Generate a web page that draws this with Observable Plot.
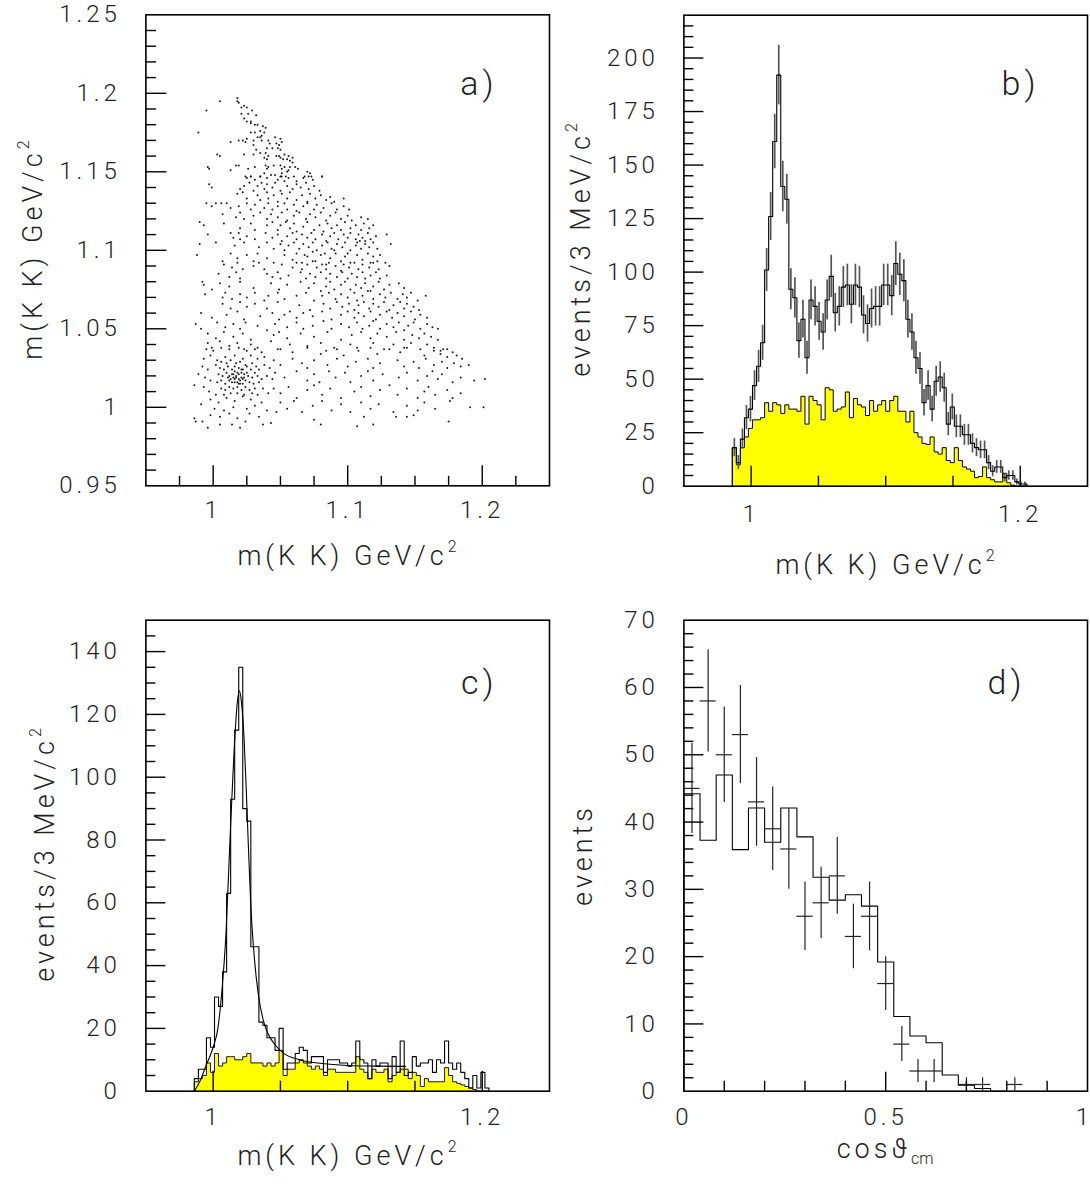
<!DOCTYPE html>
<html>
<head>
<meta charset="utf-8">
<script src="https://cdn.jsdelivr.net/npm/d3@7"></script>
<script src="https://cdn.jsdelivr.net/npm/@observablehq/plot@0.6"></script>
<style>
  html, body { margin: 0; padding: 0; background: #fff; }
  #root { position: relative; width: 1090px; height: 1184px; background: #fff; overflow: hidden; }
  .panel { position: absolute; }
  #root .panel svg { overflow: visible; background: transparent; }
  #root .panel svg text { font-family: Roboto, "DejaVu Sans", sans-serif; font-weight: 300; font-size: 24px; letter-spacing: 4px; fill: #222; }
  #root .panel svg text.ttl { font-size: 27px; letter-spacing: 4px; }
  #root .panel svg text.plab { font-size: 34px; letter-spacing: 4px; }
  #root .panel svg text.tight { letter-spacing: 0px; }
  #root .panel svg tspan.sup { font-size: 16px; letter-spacing: 0px; }
</style>
</head>
<body>
<div id="root"></div>
<script>
// ---------------- DATA ----------------
// common mass binning (events / 3 MeV/c^2)
const binStart = 0.986;
const binWidth = 0.003;

// panel b: total m(KK) histogram, its errors, and background (yellow)
const countsB = [18,11,22,32,36,47,56,67,101,126,161,192,140,134,92,88,68,78,60,87,
  84,77,72,87,98,81,84,93,94,85,94,93,80,76,83,84,84,94,94,89,
  104,99,96,78,72,60,55,39,47,36,49,51,46,29,37,28,28,24,24,20,
  18,17,17,11,7,9,9,4,5,5,2,1,1];
const errorsB = [4.2,3.3,4.7,5.7,6,6.9,7.5,8.2,10,11.2,12.7,13.9,11.8,11.6,9.6,9.4,8.2,8.8,7.7,9.3,
  9.2,8.8,8.5,9.3,9.9,9,9.2,9.6,9.7,9.2,9.7,9.6,8.9,8.7,9.1,9.2,9.2,9.7,9.7,9.4,
  10.2,9.9,9.8,8.8,8.5,7.7,7.4,6.2,6.9,6,7,7.1,6.8,5.4,6.1,5.3,5.3,4.9,4.9,4.5,
  4.2,4.1,4.1,3.3,2.6,3,3,2,2.2,2.2,1.4,1,1];
const backgroundB = [18,10,18,23,27,31,31,32,39,35,39,38,34,38,36,36,35,42,29,42,
  40,38,31,46,45,35,36,37,44,32,41,38,37,33,40,35,38,40,35,40,
  42,35,35,30,35,25,23,20,19.5,23,16,15,18,12,11,18,12,9,8,7,
  4,4.5,9,4,3,2,2,6,1.6,0.5,0,0,0];

// panel c: selected m(KK) histogram, background (yellow), fit curve
const countsC = [4,7,7,17,14,30,27,38,63,93,115,135,90,86,46,46,22,21,17,17,
  13,20,7,9,9,12,14,13,9,11,11,11,6,10,10,10,9,9,8,9,
  16,10,9,4,10,8,9,9,4,11,6,16,5,6,11,8,9,9,10,6,
  10,9,16,9,7,9,6,4,1,5,1,6,1];
const backgroundC = [3,4,5,9,6,12,8,9,11,11,10,10,11,12,9,9,9,8,9,8,
  9,13,5,7,7,9,10,9,8,7,8,7,5,7,7,6,6,6,6,6,
  11,7,6,4,7,6,6,7,3,5,6,7,7,4,6,5,1.5,4,3,3,
  3,3,7.5,5,3,2.5,2,1.5,1,0.5,0,0,0];
const fitMassC = [0.986,0.990,0.995,1.000,1.0035,1.0065,1.0095,1.0125,1.0155,1.018,1.0195,1.021,1.023,1.0245,1.026,1.028,1.0305,1.0335,1.037,1.040,1.046,1.052,1.064,1.081,1.100,1.120,1.143];
const fitValueC = [0,3,8.5,14,20,32,50,80,108,124,127.5,124,112,97,80,59,43,31,23,19,14.8,12.2,10,8.8,8.2,8.0,7.9];

// panel d: cos(theta_cm) – MC histogram (0.04 bins) and data points
const cosEdgesStart = 0, cosBinWidth = 0.04;
const mcD = [44.2,37.3,47,35.9,42.1,37.0,42.1,37.8,31.8,28.4,29.2,27.5,19.2,11.1,8.2,7.2,2.4,0.9,0.4,0];
const dataCosD = [0.02,0.06,0.10,0.14,0.18,0.22,0.26,0.30,0.34,0.38,0.42,0.46,0.50,0.54,0.58,0.62,0.70,0.74,0.82];
const dataEvtD = [45,58,50,53,43,39,36,26,28,32,23,26,16,7,3,3,1,1,1];
const dataErrD = [6.7,7.6,7.1,7.3,6.6,6.2,6,5.1,5.3,5.7,4.8,5.1,4,2.6,1.7,1.7,1,1,1];

// panel a: scatter m(KK) vs m(KK)
const scatterTop = [[1.005,1.195],[0.995,1.189],[1.018,1.197],[1.018,1.195],[1.019,1.194],[1.023,1.192],[1.025,1.191],[1.021,1.191],[1.029,1.189],[1.032,1.186],[1.026,1.187],[1.021,1.187],
[1.023,1.184],[1.025,1.182],[1.028,1.182],[1.031,1.180],[1.033,1.180],[1.037,1.179],[1.039,1.178],[1.028,1.181],
[0.989,1.175],[1.028,1.175],[1.031,1.175],[1.035,1.176],[1.038,1.175],[1.036,1.173],[1.025,1.171],[1.022,1.170],[1.019,1.170],[1.024,1.169],[1.030,1.170],[1.033,1.172],[1.035,1.172],[1.036,1.170],[1.013,1.169],[1.041,1.170],[1.046,1.172],[1.050,1.171],[1.051,1.169],[1.042,1.168],[1.047,1.168],[1.049,1.167],
[1.032,1.164],[1.030,1.167],[1.040,1.165],[1.044,1.165],[1.048,1.165],[1.050,1.164],[1.039,1.162],[1.035,1.162],[1.030,1.161],[1.003,1.161],[1.005,1.160],[1.023,1.161],[1.041,1.160],[1.038,1.159],[1.040,1.158],[1.047,1.160],[1.049,1.160],[1.053,1.161],[1.056,1.160],[1.059,1.159],[1.050,1.159],[1.052,1.158],[1.055,1.158],[1.057,1.157],
[0.996,1.153],[0.997,1.152],[1.017,1.154],[1.019,1.154],[1.026,1.152],[1.013,1.151],[1.031,1.153],[1.039,1.154],[1.041,1.153],[1.040,1.152],[1.045,1.154],[1.050,1.154],[1.051,1.152],[1.053,1.153],[1.056,1.151],[1.057,1.153],[1.059,1.156],[1.061,1.153],[1.063,1.152],[1.055,1.150],[1.038,1.149],[1.035,1.147],[1.028,1.147],[1.024,1.147],[1.046,1.148],[1.050,1.147],[1.051,1.149],[1.054,1.147],[1.070,1.150],[1.072,1.149],[1.068,1.147],[1.073,1.147],[1.081,1.147]];

const scatterUpper = [[1.025,1.146],[1.028,1.147],[1.031,1.145],[1.035,1.147],[1.040,1.146],[1.043,1.148],[1.048,1.145],[1.051,1.147],[1.053,1.144],[1.056,1.146],[1.060,1.147],[1.062,1.144],[1.067,1.146],[1.071,1.147],[1.074,1.145],[1.081,1.147],
[0.997,1.142],[0.999,1.140],[1.020,1.139],[1.023,1.141],[1.027,1.143],[1.030,1.138],[1.033,1.141],[1.036,1.143],[1.038,1.139],[1.040,1.142],[1.044,1.140],[1.046,1.143],[1.050,1.138],[1.055,1.141],[1.059,1.139],[1.062,1.142],[1.065,1.140],[1.069,1.143],[1.071,1.139],[1.075,1.141],[1.079,1.138],
[1.018,1.136],[1.022,1.137],[1.025,1.133],[1.033,1.135],[1.035,1.132],[1.040,1.137],[1.041,1.133],[1.045,1.135],[1.048,1.131],[1.051,1.136],[1.055,1.133],[1.057,1.137],[1.062,1.132],[1.066,1.135],[1.070,1.131],[1.072,1.136],[1.076,1.133],[1.080,1.135],[1.084,1.132],[1.087,1.134],[1.090,1.131],[1.097,1.133],
[0.995,1.130],[0.999,1.128],[1.002,1.130],[1.006,1.130],[1.010,1.130],[1.013,1.127],[1.019,1.128],[1.025,1.130],[1.028,1.126],[1.031,1.129],[1.038,1.127],[1.041,1.130],[1.044,1.126],[1.048,1.128],[1.053,1.130],[1.055,1.126],[1.060,1.129],[1.062,1.125],[1.067,1.128],[1.070,1.130],[1.075,1.126],[1.077,1.129],[1.082,1.127],[1.088,1.130],[1.092,1.126],[1.097,1.128],[1.101,1.126],
[1.007,1.123],[1.017,1.121],[1.020,1.124],[1.023,1.120],[1.030,1.122],[1.035,1.124],[1.040,1.120],[1.043,1.123],[1.048,1.121],[1.051,1.124],[1.055,1.119],[1.060,1.122],[1.064,1.124],[1.069,1.120],[1.072,1.123],[1.076,1.121],[1.080,1.124],[1.084,1.119],[1.087,1.122],[1.091,1.124],[1.095,1.120],[1.100,1.122],[1.103,1.119],[1.110,1.121],[1.115,1.120],
[0.990,1.118],[0.993,1.116],[1.008,1.117],[1.020,1.114],[1.028,1.117],[1.031,1.113],[1.040,1.116],[1.044,1.118],[1.048,1.113],[1.050,1.116],[1.054,1.118],[1.057,1.114],[1.060,1.117],[1.062,1.112],[1.067,1.115],[1.070,1.118],[1.075,1.113],[1.079,1.116],[1.082,1.112],[1.085,1.117],[1.088,1.114],[1.092,1.116],[1.095,1.113],[1.098,1.118],[1.102,1.114],[1.106,1.116],[1.110,1.113],[1.112,1.117],[1.116,1.114],[1.119,1.116],
[0.996,1.110],[1.013,1.111],[1.015,1.108],[1.019,1.111],[1.020,1.107],[1.025,1.109],[1.031,1.107],[1.039,1.111],[1.044,1.108],[1.048,1.110],[1.051,1.106],[1.055,1.109],[1.059,1.111],[1.062,1.107],[1.066,1.110],[1.070,1.108],[1.073,1.111],[1.076,1.107],[1.081,1.110],[1.084,1.106],[1.087,1.109],[1.090,1.111],[1.093,1.107],[1.097,1.110],[1.100,1.108],[1.102,1.111],[1.106,1.107],[1.108,1.110],[1.111,1.108],[1.115,1.111],[1.117,1.107],[1.121,1.109],[1.129,1.110],[1.113,1.106],[1.109,1.106],
[0.990,1.104],[1.002,1.105],[1.016,1.103],[1.023,1.105],[1.034,1.102],[1.040,1.105],[1.045,1.101],[1.050,1.104],[1.053,1.100],[1.056,1.103],[1.060,1.105],[1.064,1.101],[1.067,1.104],[1.071,1.102],[1.074,1.105],[1.077,1.100],[1.081,1.103],[1.085,1.105],[1.088,1.101],[1.092,1.104],[1.096,1.102],[1.098,1.105],[1.102,1.100],[1.106,1.103],[1.110,1.101],[1.113,1.104],[1.116,1.102],[1.119,1.105],[1.122,1.101],[1.132,1.104],[1.107,1.105],[1.090,1.100],
[0.988,1.097],[1.007,1.093],[1.013,1.098],[1.018,1.095],[1.025,1.097],[1.030,1.093],[1.033,1.098],[1.040,1.095],[1.045,1.092],[1.053,1.097],[1.059,1.094],[1.062,1.098],[1.066,1.092],[1.070,1.096],[1.074,1.099],[1.076,1.093],[1.080,1.097],[1.084,1.091],[1.087,1.095],[1.091,1.098],[1.095,1.093],[1.098,1.096],[1.102,1.092],[1.107,1.097],[1.111,1.094],[1.115,1.098],[1.117,1.092],[1.119,1.096],[1.122,1.093],[1.124,1.097],[1.128,1.092],[1.083,1.098],[1.068,1.097],[1.100,1.098]];

const scatterMiddle = [[1.008,1.091],[1.014,1.089],[1.018,1.092],[1.022,1.088],[1.030,1.090],[1.034,1.092],[1.038,1.088],[1.051,1.091],[1.059,1.089],[1.062,1.092],[1.066,1.088],[1.070,1.091],[1.074,1.093],[1.077,1.089],[1.081,1.091],[1.084,1.088],[1.086,1.092],[1.091,1.090],[1.095,1.087],[1.097,1.091],[1.101,1.089],[1.105,1.092],[1.108,1.088],[1.111,1.091],[1.116,1.089],[1.119,1.092],[1.123,1.088],[1.131,1.090],
[1.004,1.085],[1.012,1.083],[1.017,1.086],[1.020,1.082],[1.040,1.085],[1.044,1.083],[1.048,1.086],[1.050,1.082],[1.056,1.084],[1.065,1.086],[1.069,1.082],[1.072,1.085],[1.076,1.083],[1.080,1.086],[1.084,1.082],[1.087,1.085],[1.092,1.083],[1.096,1.086],[1.100,1.082],[1.103,1.085],[1.107,1.083],[1.111,1.086],[1.113,1.082],[1.117,1.084],[1.121,1.086],[1.124,1.082],[1.129,1.084],
[0.992,1.080],[0.993,1.078],[0.999,1.075],[1.005,1.079],[1.012,1.077],[1.020,1.080],[1.030,1.076],[1.043,1.079],[1.049,1.075],[1.055,1.078],[1.065,1.080],[1.071,1.076],[1.075,1.079],[1.080,1.074],[1.084,1.077],[1.087,1.080],[1.090,1.075],[1.095,1.078],[1.098,1.080],[1.102,1.075],[1.106,1.078],[1.110,1.076],[1.113,1.079],[1.117,1.074],[1.119,1.077],[1.123,1.080],[1.127,1.075],[1.131,1.078],[1.138,1.079],[1.142,1.076],
[0.994,1.072],[1.007,1.070],[1.009,1.073],[1.014,1.069],[1.020,1.072],[1.025,1.070],[1.031,1.073],[1.038,1.068],[1.041,1.071],[1.048,1.073],[1.053,1.069],[1.062,1.071],[1.069,1.073],[1.075,1.068],[1.081,1.071],[1.086,1.073],[1.091,1.069],[1.095,1.072],[1.100,1.070],[1.105,1.073],[1.107,1.068],[1.111,1.071],[1.115,1.074],[1.119,1.069],[1.124,1.072],[1.128,1.070],[1.132,1.073],[1.137,1.069],[1.141,1.072],[1.144,1.070],[1.147,1.073],[1.152,1.068],[1.158,1.071],
[1.007,1.066],[1.013,1.063],[1.020,1.067],[1.025,1.064],[1.031,1.066],[1.040,1.063],[1.048,1.067],[1.064,1.065],[1.072,1.062],[1.082,1.066],[1.087,1.063],[1.092,1.067],[1.096,1.064],[1.101,1.066],[1.105,1.062],[1.108,1.065],[1.112,1.067],[1.116,1.063],[1.119,1.066],[1.123,1.064],[1.127,1.067],[1.131,1.062],[1.134,1.065],[1.139,1.067],[1.142,1.063],[1.144,1.066],[1.149,1.064],[1.153,1.062],
[0.991,1.060],[0.999,1.057],[1.010,1.059],[1.018,1.061],[1.023,1.056],[1.035,1.058],[1.044,1.060],[1.049,1.056],[1.053,1.059],[1.057,1.061],[1.062,1.057],[1.067,1.060],[1.074,1.058],[1.081,1.061],[1.088,1.056],[1.095,1.059],[1.100,1.061],[1.105,1.057],[1.108,1.060],[1.112,1.058],[1.117,1.061],[1.121,1.056],[1.124,1.059],[1.129,1.061],[1.133,1.057],[1.137,1.060],[1.142,1.058],[1.147,1.061],[1.150,1.056],[1.154,1.059],[1.159,1.057],
[0.987,1.053],[0.991,1.050],[1.003,1.054],[1.009,1.051],[1.015,1.053],[1.020,1.050],[1.024,1.054],[1.033,1.052],[1.040,1.049],[1.046,1.053],[1.055,1.051],[1.062,1.054],[1.067,1.050],[1.074,1.052],[1.082,1.055],[1.088,1.050],[1.095,1.053],[1.101,1.051],[1.107,1.054],[1.111,1.050],[1.116,1.052],[1.119,1.055],[1.124,1.050],[1.129,1.053],[1.134,1.051],[1.138,1.054],[1.142,1.049],[1.145,1.052],[1.149,1.054],[1.154,1.050],[1.159,1.053],[1.163,1.051],[1.167,1.050],
[0.996,1.047],[1.002,1.044],[1.008,1.048],[1.015,1.045],[1.022,1.047],[1.028,1.043],[1.045,1.046],[1.049,1.048],[1.055,1.044],[1.065,1.047],[1.075,1.045],[1.085,1.048],[1.095,1.043],[1.103,1.046],[1.110,1.048],[1.117,1.044],[1.122,1.047],[1.129,1.045],[1.136,1.048],[1.142,1.043],[1.148,1.046],[1.153,1.044],[1.157,1.047],[1.162,1.045],[1.167,1.043],
[0.996,1.041],[0.999,1.038],[1.005,1.042],[1.012,1.039],[1.018,1.041],[1.023,1.037],[1.028,1.040],[1.033,1.038],[1.043,1.042],[1.048,1.037],[1.057,1.040],[1.070,1.039],[1.080,1.041],[1.092,1.037],[1.102,1.040],[1.107,1.038],[1.119,1.041],[1.127,1.037],[1.134,1.040],[1.142,1.038],[1.147,1.041],[1.154,1.037],[1.159,1.040],[1.164,1.038],[1.169,1.036],[1.174,1.037]];

const scatterPhi = [[0.995,1.037],[1.000,1.036],[1.006,1.038],[1.012,1.037],[1.019,1.038],[1.025,1.036],[1.031,1.037],[1.036,1.035],[0.993,1.031],[0.998,1.033],[1.003,1.030],[1.009,1.032],[1.016,1.033],[1.022,1.031],[1.028,1.033],[1.033,1.031],[1.038,1.032],[0.992,1.026],[0.996,1.024],[1.002,1.027],[1.038,1.027],[1.042,1.025],[0.989,1.021],[0.994,1.019],[0.998,1.017],[1.040,1.020],[1.044,1.018],[0.993,1.013],[0.997,1.010],[1.002,1.008],[1.037,1.012],[1.041,1.009],[0.998,1.005],[1.004,1.003],[1.010,1.006],[1.016,1.004],[1.022,1.007],[1.028,1.005],[1.033,1.008],[1.036,1.003],[0.991,1.002],[1.001,0.999],[1.008,0.998],[1.015,1.000],[1.025,0.999],[1.031,1.001],[1.040,0.998],[0.986,0.993],[0.992,0.991],[0.996,0.987],[0.998,0.995],[1.005,0.994],[1.012,0.996],[1.018,0.993],[1.024,0.991],[1.027,0.996],[1.034,0.994],[1.037,0.989],[1.043,0.990],[1.047,0.997],[1.005,0.989],[1.014,0.989],[1.020,0.987],[0.986,1.014],[0.987,0.991],
[1.006,1.029],[1.010,1.028],[1.013,1.030],[1.017,1.028],[1.020,1.029],[1.024,1.027],[1.029,1.028],[1.032,1.026],[1.005,1.025],[1.008,1.024],[1.011,1.026],[1.014,1.024],[1.016,1.026],[1.019,1.025],[1.022,1.024],[1.025,1.026],[1.028,1.024],[1.031,1.022],[1.034,1.024],[1.004,1.021],[1.007,1.020],[1.010,1.022],[1.012,1.020],[1.015,1.021],[1.017,1.019],[1.019,1.021],[1.021,1.019],[1.023,1.021],[1.026,1.020],[1.029,1.019],[1.033,1.020],[1.036,1.018],[1.003,1.016],[1.006,1.017],[1.009,1.015],[1.012,1.017],[1.014,1.016],[1.016,1.018],[1.018,1.016],[1.020,1.017],[1.022,1.015],[1.024,1.017],[1.027,1.016],[1.030,1.015],[1.034,1.016],[1.006,1.012],[1.009,1.011],[1.012,1.013],[1.015,1.012],[1.018,1.013],[1.021,1.011],[1.024,1.013],[1.027,1.011],[1.031,1.012],[1.008,1.008],[1.013,1.009],[1.018,1.009],[1.023,1.008],[1.029,1.009],[1.017,1.020],[1.019,1.018],[1.021,1.022],[1.015,1.019],[1.020,1.015],[1.013,1.018],[1.025,1.022],[1.016,1.023],[1.011,1.019],[1.023,1.019],[1.018,1.022],[1.014,1.021],[1.022,1.018],[1.019,1.015],[1.016,1.016],[1.021,1.024]];

const scatterLower = [[1.050,1.037],[1.059,1.035],[1.070,1.038],[1.080,1.034],[1.084,1.036],[1.090,1.038],[1.097,1.033],[1.108,1.036],[1.117,1.038],[1.122,1.034],[1.131,1.037],[1.139,1.035],[1.144,1.038],[1.157,1.033],[1.164,1.036],[1.169,1.034],[1.171,1.037],[1.174,1.032],[1.178,1.035],[1.181,1.033],[1.185,1.031],
[1.045,1.030],[1.050,1.027],[1.059,1.031],[1.066,1.028],[1.070,1.025],[1.075,1.030],[1.085,1.027],[1.092,1.031],[1.100,1.026],[1.106,1.029],[1.115,1.031],[1.119,1.025],[1.124,1.028],[1.137,1.030],[1.142,1.026],[1.149,1.029],[1.153,1.025],[1.158,1.031],[1.164,1.027],[1.170,1.029],[1.174,1.025],[1.179,1.028],[1.184,1.026],[1.190,1.027],
[1.046,1.022],[1.053,1.019],[1.062,1.023],[1.070,1.017],[1.075,1.021],[1.079,1.016],[1.086,1.023],[1.091,1.019],[1.098,1.022],[1.102,1.016],[1.110,1.020],[1.115,1.023],[1.119,1.017],[1.126,1.021],[1.138,1.019],[1.144,1.022],[1.152,1.017],[1.159,1.020],[1.163,1.023],[1.167,1.018],[1.170,1.021],[1.178,1.016],[1.184,1.019],[1.194,1.017],[1.202,1.018],
[1.045,1.012],[1.050,1.009],[1.056,1.013],[1.062,1.006],[1.070,1.011],[1.075,1.014],[1.081,1.008],[1.087,1.012],[1.095,1.006],[1.105,1.010],[1.110,1.013],[1.117,1.007],[1.124,1.011],[1.131,1.014],[1.137,1.008],[1.144,1.012],[1.152,1.006],[1.157,1.010],[1.160,1.013],[1.165,1.008],[1.174,1.011],[1.178,1.006],[1.184,1.009],
[1.050,1.003],[1.055,0.999],[1.060,1.004],[1.066,0.997],[1.074,1.001],[1.081,1.004],[1.088,0.998],[1.095,1.002],[1.102,0.997],[1.110,1.003],[1.117,0.999],[1.123,1.002],[1.134,0.997],[1.144,1.001],[1.152,0.998],[1.157,1.003],[1.165,0.999],[1.176,1.004],[1.191,1.000],[1.201,1.000],
[1.075,0.992],[1.080,0.989],[1.107,0.988],[1.112,0.994],[1.119,0.989],[1.136,0.994],[1.144,0.994],[1.149,0.995],[1.175,0.991]];

// tick labels
const ticksA = [0.95,1,1.05,1.1,1.15,1.2,1.25];
const ticksAx = [1,1.1,1.2];
const ticksBy = [0,25,50,75,100,125,150,175,200];
const ticksMass = [1,1.2];
const ticksCy = [0,20,40,60,80,100,120,140];
const ticksDx = [0,0.5];
const ticksDxEnd = [1];
const ticksDy = [0,10,20,30,40,50,60,70];

// ---------------- HELPERS ----------------
const fmt = d => String(d);
const root = document.getElementById("root");

function stepPoints(start, width, values) {
  const pts = [{x: start, y: 0}];
  values.forEach((v, i) => pts.push({x: start + i * width, y: v}));
  const end = start + values.length * width;
  pts.push({x: end, y: values[values.length - 1]});
  pts.push({x: end, y: 0});
  return pts;
}
function range(a, b, s) { return d3.range(a, b + s / 2, s).map(v => +v.toFixed(4)); }
function minor(a, b, s, majorStep) {
  return range(a, b, s).filter(v => Math.abs(v / majorStep - Math.round(v / majorStep)) > 1e-6);
}
function ticksMarks(o) {
  const {FW, FH, xMinor, xMajor, yMinor, yMajor, xMinLen, xMajLen, yMinLen, yMajLen} = o;
  const st = {stroke: "black", strokeWidth: 1.4};
  return [
    Plot.tickX(xMinor, {x: d => d, insetTop: FH - xMinLen, ...st}),
    Plot.tickX(xMajor, {x: d => d, insetTop: FH - xMajLen, ...st}),
    Plot.tickY(yMinor, {y: d => d, insetRight: FW - yMinLen, ...st}),
    Plot.tickY(yMajor, {y: d => d, insetRight: FW - yMajLen, ...st})
  ];
}
function mount(svg, left, top) {
  const div = document.createElement("div");
  div.className = "panel";
  div.style.left = left + "px";
  div.style.top = top + "px";
  div.appendChild(svg);
  root.appendChild(div);
  return d3.select(svg);
}
function title(sel, x, y, rotate, main, sup, sub) {
  const t = sel.append("text").attr("class", "ttl")
    .attr("text-anchor", "middle")
    .attr("transform", `translate(${x},${y})` + (rotate ? " rotate(-90)" : ""));
  t.append("tspan").text(main);
  if (sup) t.append("tspan").attr("class", "sup").attr("dy", "-0.8em").text(sup);
  if (sub) t.append("tspan").attr("class", "sup").attr("dy", "0.35em").text(sub);
}
function markLabel(s, txt, cls) {
  s.selectAll("text").filter(function() { return this.textContent === txt; }).attr("class", cls || "plab");
}

// ---------------- PANEL A ----------------
{
  const W = 560, H = 600, ML = 145.4, MT = 14.3, FW = 403.6, FH = 471;
  const allPts = [...scatterTop, ...scatterUpper, ...scatterMiddle, ...scatterPhi, ...scatterLower];
  const svg = Plot.plot({
    width: W, height: H, marginLeft: ML, marginTop: MT, marginRight: W - ML - FW, marginBottom: H - MT - FH,
    x: {domain: [0.95, 1.25]}, y: {domain: [0.95, 1.25]},
    marks: [
      Plot.dot(allPts, {x: d => d[0], y: d => d[1], r: 1.0, fill: "#1a1a1a", stroke: "none"}),
      ...ticksMarks({FW, FH,
        xMinor: minor(0.975, 1.225, 0.025, 0.1), xMajor: ticksAx,
        yMinor: minor(0.96, 1.24, 0.01, 0.05), yMajor: [1, 1.05, 1.1, 1.15, 1.2],
        xMinLen: 9.5, xMajLen: 20, yMinLen: 10.7, yMajLen: 21}),
      Plot.axisX({ticks: ticksAx, tickSize: 0, tickPadding: 15, tickFormat: fmt, label: null}),
      Plot.axisY({ticks: ticksA, tickSize: 0, tickPadding: 25, tickFormat: fmt, label: null}),
      Plot.frame({stroke: "black", strokeWidth: 1.6}),
      Plot.text(["a)"], {text: d => d, frameAnchor: "top-right", dx: -52, dy: 56})
    ]
  });
  const s = mount(svg, 0, 0);
  markLabel(s, "a)");
  title(s, 347, 565, false, "m(K K) GeV/c", "2");
  title(s, 42, 250, true, "m(K K) GeV/c", "2");
}

// ---------------- PANEL B ----------------
{
  const W = 545, H = 600, ML = 138.4, MT = 14.7, FW = 403.6, FH = 471;
  const total = stepPoints(binStart, binWidth, countsB);
  const bg = stepPoints(binStart, binWidth, backgroundB);
  const centers = countsB.map((v, i) => ({x: binStart + (i + 0.5) * binWidth, v, e: errorsB[i]}));
  const svg = Plot.plot({
    width: W, height: H, marginLeft: ML, marginTop: MT, marginRight: W - ML - FW, marginBottom: H - MT - FH,
    x: {domain: [0.95, 1.25]}, y: {domain: [0, 220]},
    marks: [
      Plot.areaY(bg, {x: "x", y: "y", curve: "step-after", fill: "#ffff00"}),
      Plot.line(bg, {x: "x", y: "y", curve: "step-after", stroke: "black", strokeWidth: 1}),
      Plot.ruleX(centers, {x: "x", y1: d => d.v - d.e, y2: d => d.v + d.e, stroke: "#555", strokeWidth: 1.7}),
      Plot.line(total, {x: "x", y: "y", curve: "step-after", stroke: "black", strokeWidth: 1.1}),
      ...ticksMarks({FW, FH,
        xMinor: [1.05, 1.1, 1.15], xMajor: ticksMass,
        yMinor: minor(5, 215, 5, 25), yMajor: [25, 50, 75, 100, 125, 150, 175, 200],
        xMinLen: 10, xMajLen: 20, yMinLen: 10, yMajLen: 20}),
      Plot.axisX({ticks: ticksMass, tickSize: 0, tickPadding: 19, tickFormat: fmt, label: null}),
      Plot.axisY({ticks: ticksBy, tickSize: 0, tickPadding: 25, tickFormat: fmt, label: null}),
      Plot.frame({stroke: "black", strokeWidth: 1.6}),
      Plot.text(["b)"], {text: d => d, frameAnchor: "top-right", dx: -48, dy: 56})
    ]
  });
  const s = mount(svg, 545, 0);
  markLabel(s, "b)");
  title(s, 340, 574, false, "m(K K) GeV/c", "2");
  title(s, 45, 250, true, "events/3 MeV/c", "2");
}

// ---------------- PANEL C ----------------
{
  const W = 560, H = 584, ML = 145.4, MT = 19.7, FW = 403.6, FH = 471;
  const total = stepPoints(binStart, binWidth, countsC);
  const bg = stepPoints(binStart, binWidth, backgroundC);
  const fit = fitMassC.map((x, i) => ({x, y: fitValueC[i]}));
  const svg = Plot.plot({
    width: W, height: H, marginLeft: ML, marginTop: MT, marginRight: W - ML - FW, marginBottom: H - MT - FH,
    x: {domain: [0.95, 1.25]}, y: {domain: [0, 150]},
    marks: [
      Plot.areaY(bg, {x: "x", y: "y", curve: "step-after", fill: "#ffff00"}),
      Plot.line(bg, {x: "x", y: "y", curve: "step-after", stroke: "black", strokeWidth: 0.9}),
      Plot.line(total, {x: "x", y: "y", curve: "step-after", stroke: "black", strokeWidth: 1.1}),
      Plot.line(fit, {x: "x", y: "y", curve: "monotone-x", stroke: "black", strokeWidth: 1.1}),
      ...ticksMarks({FW, FH,
        xMinor: [1.05, 1.1, 1.15], xMajor: ticksMass,
        yMinor: minor(5, 145, 5, 20), yMajor: [20, 40, 60, 80, 100, 120, 140],
        xMinLen: 10, xMajLen: 20, yMinLen: 10, yMajLen: 20}),
      Plot.axisX({ticks: ticksMass, tickSize: 0, tickPadding: 17, tickFormat: fmt, label: null}),
      Plot.axisY({ticks: ticksCy, tickSize: 0, tickPadding: 25, tickFormat: fmt, label: null}),
      Plot.frame({stroke: "black", strokeWidth: 1.6}),
      Plot.text(["c)"], {text: d => d, frameAnchor: "top-right", dx: -52, dy: 50})
    ]
  });
  const s = mount(svg, 0, 600);
  markLabel(s, "c)");
  title(s, 347, 565, false, "m(K K) GeV/c", "2");
  title(s, 54, 255, true, "events/3 MeV/c", "2");
}

// ---------------- PANEL D ----------------
{
  const W = 545, H = 584, ML = 138.4, MT = 19.7, FW = 403.6, FH = 471;
  const mc = stepPoints(cosEdgesStart, cosBinWidth, mcD);
  const pts = dataCosD.map((x, i) => ({x, y: dataEvtD[i], e: dataErrD[i]}));
  const svg = Plot.plot({
    width: W, height: H, marginLeft: ML, marginTop: MT, marginRight: W - ML - FW, marginBottom: H - MT - FH,
    x: {domain: [0, 1]}, y: {domain: [0, 70]},
    marks: [
      Plot.line(mc, {x: "x", y: "y", curve: "step-after", stroke: "black", strokeWidth: 1.1}),
      Plot.ruleX(pts, {x: "x", y1: d => d.y - d.e, y2: d => d.y + d.e, stroke: "#222", strokeWidth: 1.2}),
      Plot.ruleY(pts, {y: "y", x1: d => d.x - cosBinWidth / 2, x2: d => d.x + cosBinWidth / 2, stroke: "#222", strokeWidth: 1.2}),
      ...ticksMarks({FW, FH,
        xMinor: [0.1, 0.2, 0.3, 0.4, 0.6, 0.7, 0.8, 0.9], xMajor: [0.5],
        yMinor: minor(2, 68, 2, 10), yMajor: [10, 20, 30, 40, 50, 60],
        xMinLen: 10, xMajLen: 19, yMinLen: 10, yMajLen: 20}),
      Plot.axisX({ticks: ticksDx, tickSize: 0, tickPadding: 17, tickFormat: fmt, label: null}),
      Plot.axisX({ticks: ticksDxEnd, tickSize: 0, tickPadding: 17, tickFormat: fmt, label: null, dx: -5}),
      Plot.axisY({ticks: ticksDy, tickSize: 0, tickPadding: 25, tickFormat: fmt, label: null}),
      Plot.frame({stroke: "black", strokeWidth: 1.6}),
      Plot.text(["d)"], {text: d => d, frameAnchor: "top-right", dx: -62, dy: 50})
    ]
  });
  const s = mount(svg, 545, 600);
  markLabel(s, "d)");
  markLabel(s, "1", "tight");
  title(s, 340, 558, false, "cosϑ", null, "cm");
  title(s, 47, 255, true, "events", null, null);
}
</script>
</body>
</html>
